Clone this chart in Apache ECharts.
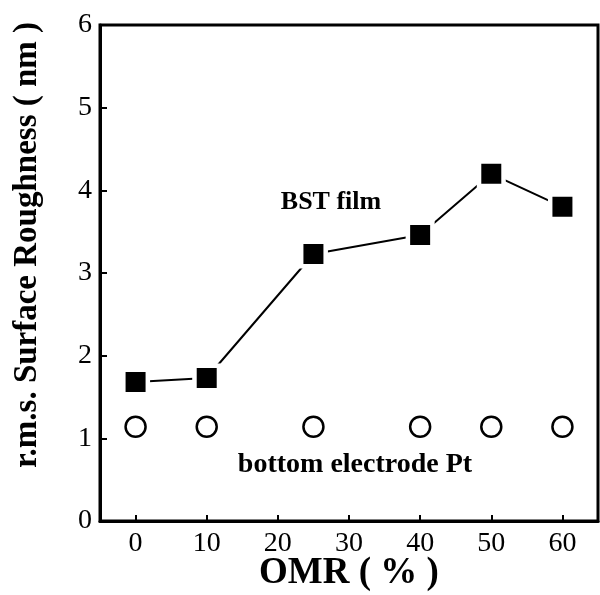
<!DOCTYPE html>
<html>
<head>
<meta charset="utf-8">
<script src="https://cdn.jsdelivr.net/npm/echarts@6/dist/echarts.min.js"></script>
<style>
  html, body { margin: 0; padding: 0; background: #fff; }
  #chart { width: 600px; height: 595px; }
</style>
</head>
<body>
<div id="chart"></div>
<script>
// Oxygen mixing ratio (%) and r.m.s. surface roughness (nm)
const omr = [0, 10, 25, 40, 50, 60];
const bstFilm = [1.68, 1.73, 3.23, 3.46, 4.2, 3.8];
const bottomPt = [1.14, 1.14, 1.14, 1.14, 1.14, 1.14];
const xTicks = [0, 10, 20, 30, 40, 50, 60];

const serif = "'Liberation Serif', 'Times New Roman', serif";

const chart = echarts.init(document.getElementById('chart'), null, { renderer: 'canvas' });

chart.setOption({
  backgroundColor: '#fff',
  animation: false,
  grid: {
    left: 100, right: 2, top: 25, bottom: 74,
    outerBoundsMode: 'none', containLabel: false,
    show: true, borderColor: '#000', borderWidth: 3, backgroundColor: 'transparent'
  },
  xAxis: {
    type: 'value', min: -5, max: 65,
    axisLine: { show: true, onZero: false, lineStyle: { color: '#000', width: 3 } },
    axisTick: { show: true, inside: true, length: 6, customValues: xTicks, lineStyle: { color: '#000', width: 2 } },
    axisLabel: { customValues: xTicks, fontFamily: serif, fontSize: 28, color: '#000', margin: 9 },
    splitLine: { show: false }
  },
  yAxis: {
    type: 'value', min: 0, max: 6, interval: 1,
    axisLine: { show: true, onZero: false, lineStyle: { color: '#000', width: 3 } },
    axisTick: { show: true, inside: true, length: 7, lineStyle: { color: '#000', width: 2 } },
    axisLabel: { fontFamily: serif, fontSize: 28, color: '#000', margin: 8 },
    splitLine: { show: false }
  },
  graphic: [
    {
      // horizontal axis title
      type: 'text', x: 349, y: 573,
      style: {
        text: 'OMR ( % )', font: 'bold 37px ' + serif, fill: '#000',
        align: 'center', verticalAlign: 'middle'
      }
    },
    {
      // vertical axis title, read bottom to top
      type: 'text', x: 27, y: 245, rotation: Math.PI / 2,
      style: {
        text: 'r.m.s. Surface Roughness ( nm )',
        font: 'bold 33px ' + serif, fill: '#000',
        align: 'center', verticalAlign: 'middle'
      }
    },
    {
      type: 'text', x: 331, y: 202,
      style: {
        text: 'BST film', font: 'bold 26px ' + serif, fill: '#000',
        align: 'center', verticalAlign: 'middle'
      }
    },
    {
      type: 'text', x: 355, y: 465,
      style: {
        text: 'bottom electrode Pt', font: 'bold 28px ' + serif, fill: '#000',
        align: 'center', verticalAlign: 'middle'
      }
    }
  ],
  series: [
    {
      name: 'bottom electrode Pt',
      type: 'line',
      data: omr.map((x, i) => [x, bottomPt[i]]),
      lineStyle: { width: 0, opacity: 0 },
      symbol: 'circle', symbolSize: 20,
      itemStyle: { color: '#fff', borderColor: '#000', borderWidth: 2.5 },
      z: 2
    },
    {
      name: 'BST film',
      type: 'line',
      data: omr.map((x, i) => [x, bstFilm[i]]),
      lineStyle: { color: '#000', width: 2 },
      symbol: 'rect', symbolSize: 24.5,
      itemStyle: { color: '#000', borderColor: '#fff', borderWidth: 4.5 },
      z: 3
    }
  ]
});
</script>
</body>
</html>
